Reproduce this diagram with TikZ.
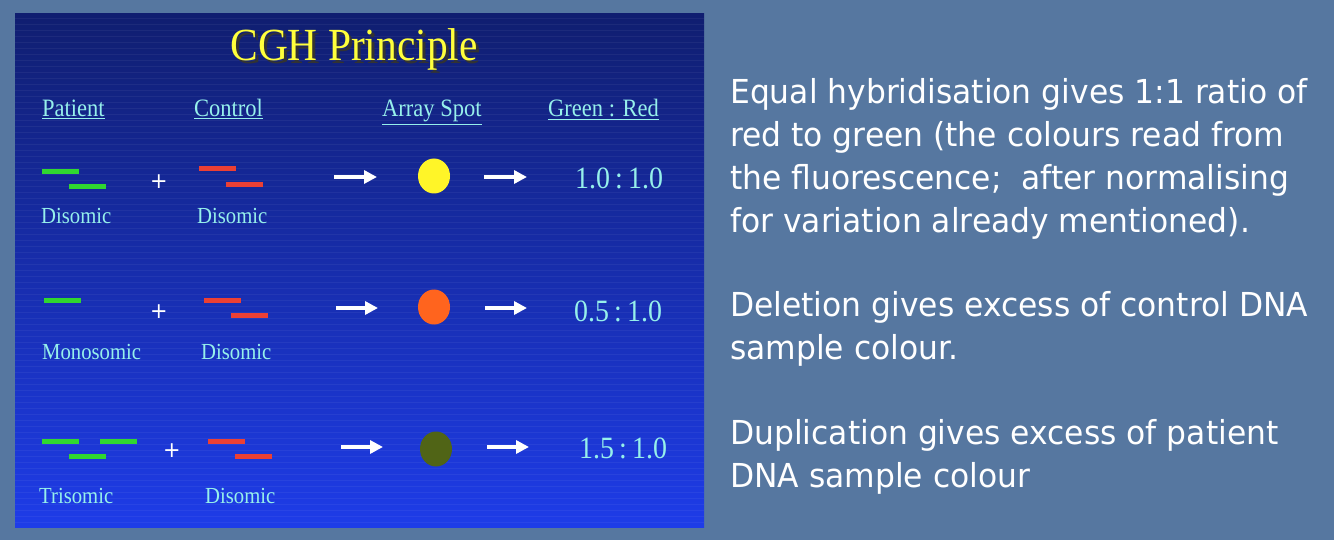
\documentclass[tikz,border=0pt]{standalone}
\usepackage{fontspec}
\usetikzlibrary{arrows.meta,shapes.geometric}
\newfontfamily\panelfont{Liberation Serif}[FakeStretch=0.9]
\newfontfamily\notefont{DejaVu Sans}[FakeStretch=0.95]

\definecolor{slidebg}{RGB}{86,119,160}
\definecolor{paneltop}{RGB}{16,30,112}
\definecolor{panelbot}{RGB}{30,60,232}
\definecolor{labelcyan}{RGB}{150,240,235}
\definecolor{titleyellow}{RGB}{255,255,60}
\definecolor{probegreen}{RGB}{48,215,48}
\definecolor{probered}{RGB}{236,64,52}
\definecolor{spotyellow}{RGB}{255,245,40}
\definecolor{spotorange}{RGB}{255,100,30}
\definecolor{spotolive}{RGB}{80,100,22}

\begin{document}
\begin{tikzpicture}[
    x=1pt, y=-1pt,
    gbar/.style={rectangle, fill=probegreen, minimum width=37pt, minimum height=5pt, inner sep=0pt},
    rbar/.style={rectangle, fill=probered, minimum width=37pt, minimum height=5pt, inner sep=0pt},
    spot/.style={ellipse, minimum width=32pt, minimum height=35pt, inner sep=0pt},
    head/.style={anchor=base west, inner sep=0pt, text=labelcyan, font=\panelfont\fontsize{25}{28}\selectfont},
    karyo/.style={anchor=base west, inner sep=0pt, text=labelcyan, font=\panelfont\fontsize{23}{26}\selectfont},
    ratio/.style={anchor=base west, inner sep=0pt, text=labelcyan, font=\panelfont\fontsize{31}{34}\selectfont},
    plus/.style={inner sep=0pt, text=white, font=\notefont\fontsize{22}{24}\selectfont},
    flow/.style={white, line width=3.8pt, arrows={-Triangle[length=13pt, width=13pt]}},
    note/.style={anchor=north west, inner sep=0pt, align=left, text=white, font=\notefont\fontsize{33}{43}\selectfont}
]

% Slide background and panel
\useasboundingbox (0,0) rectangle (1334,540);
\fill[slidebg] (0,0) rectangle (1334,540);
\shade[top color=paneltop, bottom color=panelbot] (15,14) rectangle (704,527);
\foreach \yy in {18,24,...,524}
    \draw[white, opacity=0.05, line width=0.6pt] (15,\yy) -- (704,\yy);

% Title with shadow
\node[anchor=base, inner sep=0pt, text=titleyellow, font=\panelfont\fontsize{46}{50}\selectfont] (title) at (354,61)
    {\makebox[0pt][l]{\hspace{3pt}\raisebox{-3pt}{\color{black!80}CGH Principle}}CGH Principle};

% Column heads
\node[head] (hpatient) at (42,117) {\underline{Patient}};
\node[head] (hcontrol) at (194,117) {\underline{Control}};
\node[head] (hspot) at (382,117) {\underline{Array Spot}};
\node[head] (hratio) at (548,117) {\underline{Green : Red}};

% Row 1: disomic patient
\node[gbar] (p1a) at (60.5,171.5) {};
\node[gbar] (p1b) at (87.5,186.5) {};
\node[plus] (plus1) at (159,182) {+};
\node[rbar] (c1a) at (217,169) {};
\node[rbar] (c1b) at (244.5,184.5) {};
\node[karyo] (k1p) at (41,224) {Disomic};
\node[karyo] (k1c) at (197,224) {Disomic};
\node[spot, fill=spotyellow] (spot1) at (434,176) {};
\node[ratio] (r1) at (575,189) {1.0\,:\,1.0};
\coordinate (a1s) at (334,177);
\coordinate (a1e) at (377,177);
\coordinate (b1s) at (484,177);
\coordinate (b1e) at (527,177);
\draw[flow] (a1s) -- (a1e);
\draw[flow] (b1s) -- (b1e);

% Row 2: monosomic patient
\node[gbar] (p2a) at (62,300.5) {};
\node[plus] (plus2) at (159,312) {+};
\node[rbar] (c2a) at (222,300.5) {};
\node[rbar] (c2b) at (249.5,315.5) {};
\node[karyo] (k2p) at (42,359) {Monosomic};
\node[karyo] (k2c) at (201,359) {Disomic};
\node[spot, fill=spotorange] (spot2) at (434,307) {};
\node[ratio] (r2) at (574,321) {0.5\,:\,1.0};
\coordinate (a2s) at (336,308);
\coordinate (a2e) at (378,308);
\coordinate (b2s) at (485,308);
\coordinate (b2e) at (527,308);
\draw[flow] (a2s) -- (a2e);
\draw[flow] (b2s) -- (b2e);

% Row 3: trisomic patient
\node[gbar] (p3a) at (60,441.5) {};
\node[gbar] (p3b) at (118.5,441.5) {};
\node[gbar] (p3c) at (87,456) {};
\node[plus] (plus3) at (172,451) {+};
\node[rbar] (c3a) at (226,441.5) {};
\node[rbar] (c3b) at (253.5,456) {};
\node[karyo] (k3p) at (39,503) {Trisomic};
\node[karyo] (k3c) at (205,503) {Disomic};
\node[spot, fill=spotolive] (spot3) at (436,449) {};
\node[ratio] (r3) at (579,458) {1.5\,:\,1.0};
\coordinate (a3s) at (341,447);
\coordinate (a3e) at (383,447);
\coordinate (b3s) at (487,447);
\coordinate (b3e) at (529,447);
\draw[flow] (a3s) -- (a3e);
\draw[flow] (b3s) -- (b3e);

% Explanations
\node[note] (equal) at (730,73) {\strut Equal hybridisation gives 1:1 ratio of\\red to green (the colours read from\\the fluorescence;\ \ after normalising\\for variation already mentioned).};
\node[note] (deletion) at (730,286) {\strut Deletion gives excess of control DNA\\sample colour.};
\node[note] (duplication) at (730,414) {\strut Duplication gives excess of patient\\DNA sample colour};

\end{tikzpicture}
\end{document}
